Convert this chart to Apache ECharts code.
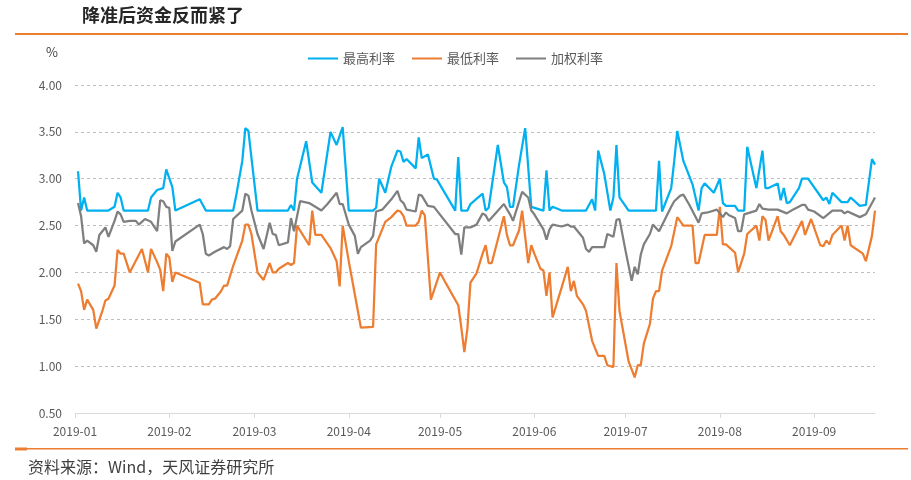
<!DOCTYPE html>
<html><head><meta charset="utf-8">
<script src="https://cdn.jsdelivr.net/npm/echarts@6/dist/echarts.min.js"></script>
<style>html,body{margin:0;padding:0;background:#fff}#c{width:911px;height:480px}</style>
</head><body><div id="c"></div>
<script>
const seriesNames = ['最高利率', '最低利率', '加权利率'];

const hiDates = ['2019-01-02','2019-01-03','2019-01-04','2019-01-05','2019-01-12','2019-01-14','2019-01-15','2019-01-16','2019-01-17','2019-01-25','2019-01-26','2019-01-28','2019-01-30','2019-01-31','2019-02-02','2019-02-03','2019-02-11','2019-02-13','2019-02-22','2019-02-23','2019-02-25','2019-02-26','2019-02-27','2019-03-02','2019-03-12','2019-03-13','2019-03-14','2019-03-15','2019-03-18','2019-03-20','2019-03-23','2019-03-26','2019-03-28','2019-03-30','2019-04-01','2019-04-09','2019-04-10','2019-04-11','2019-04-13','2019-04-15','2019-04-17','2019-04-18','2019-04-19','2019-04-20','2019-04-23','2019-04-24','2019-04-25','2019-04-27','2019-04-29','2019-04-30','2019-05-06','2019-05-07','2019-05-08','2019-05-10','2019-05-11','2019-05-15','2019-05-16','2019-05-17','2019-05-20','2019-05-22','2019-05-23','2019-05-24','2019-05-25','2019-05-27','2019-05-29','2019-05-31','2019-06-04','2019-06-05','2019-06-06','2019-06-07','2019-06-10','2019-06-18','2019-06-20','2019-06-21','2019-06-22','2019-06-24','2019-06-26','2019-06-27','2019-06-28','2019-06-29','2019-07-02','2019-07-11','2019-07-12','2019-07-13','2019-07-16','2019-07-17','2019-07-18','2019-07-20','2019-07-23','2019-07-25','2019-07-26','2019-07-27','2019-07-30','2019-08-01','2019-08-02','2019-08-03','2019-08-06','2019-08-07','2019-08-09','2019-08-10','2019-08-13','2019-08-15','2019-08-16','2019-08-17','2019-08-20','2019-08-21','2019-08-22','2019-08-23','2019-08-24','2019-08-27','2019-08-28','2019-08-30','2019-09-04','2019-09-05','2019-09-06','2019-09-07','2019-09-10','2019-09-12','2019-09-13','2019-09-16','2019-09-18','2019-09-20','2019-09-21'];
const hiVals = [3.08,2.66,2.80,2.66,2.66,2.70,2.85,2.80,2.66,2.66,2.80,2.88,2.90,3.10,2.91,2.66,2.78,2.66,2.66,2.82,3.19,3.54,3.51,2.66,2.66,2.72,2.66,3.00,3.40,2.96,2.85,3.50,3.36,3.55,2.66,2.66,2.69,3.00,2.85,3.13,3.30,3.29,3.18,3.21,3.11,3.44,3.22,3.26,3.00,2.99,2.66,3.23,2.66,2.66,2.73,2.84,2.66,2.69,3.36,2.96,2.91,2.70,2.70,3.15,3.54,2.70,2.66,3.09,2.66,2.70,2.66,2.66,2.78,2.66,3.30,3.05,2.66,2.80,3.36,2.80,2.66,2.66,3.19,2.65,2.90,3.19,3.51,3.19,2.94,2.66,2.90,2.95,2.85,3.00,2.74,2.71,2.71,2.66,2.66,3.34,2.90,3.30,2.90,2.90,2.95,2.77,2.90,2.74,2.75,2.90,3.00,3.00,2.77,2.80,2.73,2.85,2.75,2.75,2.80,2.71,2.72,3.21,3.15];

const loDates = ['2019-01-02','2019-01-03','2019-01-04','2019-01-05','2019-01-07','2019-01-08','2019-01-10','2019-01-11','2019-01-12','2019-01-14','2019-01-15','2019-01-16','2019-01-17','2019-01-19','2019-01-23','2019-01-25','2019-01-26','2019-01-28','2019-01-29','2019-01-30','2019-01-31','2019-02-01','2019-02-02','2019-02-03','2019-02-11','2019-02-12','2019-02-14','2019-02-15','2019-02-16','2019-02-18','2019-02-19','2019-02-20','2019-02-22','2019-02-25','2019-02-26','2019-02-27','2019-02-28','2019-03-02','2019-03-04','2019-03-06','2019-03-07','2019-03-08','2019-03-09','2019-03-12','2019-03-13','2019-03-14','2019-03-15','2019-03-19','2019-03-20','2019-03-21','2019-03-23','2019-03-26','2019-03-28','2019-03-29','2019-03-30','2019-04-01','2019-04-05','2019-04-09','2019-04-10','2019-04-13','2019-04-15','2019-04-17','2019-04-18','2019-04-19','2019-04-20','2019-04-23','2019-04-24','2019-04-25','2019-04-26','2019-04-28','2019-05-01','2019-05-03','2019-05-07','2019-05-08','2019-05-09','2019-05-10','2019-05-11','2019-05-13','2019-05-15','2019-05-16','2019-05-17','2019-05-18','2019-05-22','2019-05-23','2019-05-24','2019-05-25','2019-05-27','2019-05-28','2019-05-30','2019-05-31','2019-06-01','2019-06-03','2019-06-04','2019-06-05','2019-06-06','2019-06-07','2019-06-10','2019-06-12','2019-06-13','2019-06-14','2019-06-15','2019-06-17','2019-06-18','2019-06-20','2019-06-22','2019-06-24','2019-06-25','2019-06-27','2019-06-28','2019-06-29','2019-07-02','2019-07-04','2019-07-05','2019-07-06','2019-07-07','2019-07-09','2019-07-10','2019-07-11','2019-07-12','2019-07-13','2019-07-16','2019-07-18','2019-07-20','2019-07-23','2019-07-24','2019-07-25','2019-07-27','2019-07-31','2019-08-01','2019-08-02','2019-08-03','2019-08-06','2019-08-07','2019-08-09','2019-08-10','2019-08-13','2019-08-14','2019-08-15','2019-08-16','2019-08-17','2019-08-20','2019-08-21','2019-08-22','2019-08-24','2019-08-28','2019-08-29','2019-08-31','2019-09-03','2019-09-04','2019-09-05','2019-09-06','2019-09-07','2019-09-10','2019-09-11','2019-09-12','2019-09-13','2019-09-17','2019-09-18','2019-09-20','2019-09-21'];
const loVals = [1.88,1.80,1.60,1.71,1.60,1.40,1.59,1.70,1.72,1.86,2.24,2.20,2.20,2.00,2.25,2.00,2.25,2.11,2.03,1.80,2.20,2.16,1.90,2.00,1.89,1.66,1.66,1.71,1.72,1.80,1.86,1.86,2.07,2.34,2.51,2.51,2.41,2.00,1.92,2.10,2.00,2.00,2.04,2.10,2.08,2.10,2.50,2.29,2.66,2.40,2.40,2.26,2.12,1.85,2.50,2.12,1.41,1.42,2.30,2.54,2.59,2.66,2.65,2.60,2.50,2.50,2.54,2.66,2.61,1.71,2.00,1.88,1.65,1.41,1.15,1.40,1.89,1.99,2.20,2.29,2.10,2.10,2.60,2.40,2.29,2.29,2.45,2.66,2.10,2.29,2.20,2.04,2.02,1.75,2.00,1.52,1.84,2.06,1.80,1.91,1.75,1.66,1.59,1.27,1.11,1.11,1.01,0.99,2.10,1.59,1.05,0.88,1.01,1.01,1.24,1.45,1.72,1.80,1.80,2.02,2.28,2.59,2.50,2.50,2.10,2.10,2.40,2.40,2.70,2.30,2.30,2.21,2.00,2.20,2.41,2.50,2.34,2.60,2.56,2.34,2.60,2.44,2.40,2.29,2.55,2.40,2.57,2.29,2.28,2.34,2.30,2.40,2.50,2.34,2.50,2.29,2.20,2.12,2.39,2.66];

const avgDates = ['2019-01-02','2019-01-03','2019-01-04','2019-01-05','2019-01-07','2019-01-08','2019-01-09','2019-01-11','2019-01-12','2019-01-14','2019-01-15','2019-01-16','2019-01-17','2019-01-19','2019-01-21','2019-01-22','2019-01-24','2019-01-26','2019-01-28','2019-01-29','2019-01-30','2019-01-31','2019-02-01','2019-02-02','2019-02-03','2019-02-11','2019-02-12','2019-02-13','2019-02-14','2019-02-16','2019-02-19','2019-02-20','2019-02-21','2019-02-22','2019-02-25','2019-02-26','2019-02-27','2019-02-28','2019-03-02','2019-03-04','2019-03-06','2019-03-07','2019-03-08','2019-03-09','2019-03-12','2019-03-13','2019-03-14','2019-03-16','2019-03-19','2019-03-23','2019-03-25','2019-03-28','2019-03-29','2019-03-30','2019-04-01','2019-04-03','2019-04-04','2019-04-05','2019-04-08','2019-04-09','2019-04-10','2019-04-12','2019-04-15','2019-04-17','2019-04-18','2019-04-19','2019-04-20','2019-04-23','2019-04-24','2019-04-25','2019-04-27','2019-04-29','2019-05-06','2019-05-07','2019-05-08','2019-05-09','2019-05-11','2019-05-13','2019-05-15','2019-05-16','2019-05-17','2019-05-22','2019-05-24','2019-05-25','2019-05-28','2019-05-30','2019-05-31','2019-06-01','2019-06-04','2019-06-05','2019-06-06','2019-06-07','2019-06-10','2019-06-12','2019-06-13','2019-06-14','2019-06-17','2019-06-18','2019-06-19','2019-06-20','2019-06-24','2019-06-25','2019-06-27','2019-06-28','2019-06-29','2019-07-01','2019-07-03','2019-07-04','2019-07-05','2019-07-06','2019-07-07','2019-07-09','2019-07-10','2019-07-12','2019-07-14','2019-07-16','2019-07-17','2019-07-19','2019-07-20','2019-07-22','2019-07-25','2019-07-26','2019-07-28','2019-07-31','2019-08-02','2019-08-03','2019-08-04','2019-08-06','2019-08-07','2019-08-08','2019-08-09','2019-08-13','2019-08-14','2019-08-15','2019-08-17','2019-08-20','2019-08-23','2019-08-25','2019-08-28','2019-08-29','2019-08-30','2019-09-01','2019-09-04','2019-09-07','2019-09-10','2019-09-11','2019-09-12','2019-09-16','2019-09-18','2019-09-21'];
const avgVals = [2.74,2.60,2.31,2.34,2.29,2.22,2.40,2.48,2.38,2.55,2.65,2.62,2.54,2.55,2.55,2.51,2.57,2.54,2.44,2.77,2.76,2.70,2.69,2.23,2.33,2.51,2.41,2.20,2.18,2.22,2.27,2.25,2.28,2.57,2.66,2.84,2.82,2.66,2.41,2.25,2.53,2.41,2.40,2.29,2.32,2.58,2.44,2.76,2.74,2.66,2.73,2.85,2.73,2.73,2.51,2.39,2.20,2.27,2.34,2.39,2.65,2.67,2.78,2.87,2.77,2.74,2.67,2.65,2.83,2.82,2.71,2.70,2.41,2.41,2.19,2.48,2.48,2.51,2.63,2.61,2.55,2.73,2.62,2.55,2.86,2.80,2.66,2.62,2.46,2.35,2.46,2.51,2.49,2.51,2.49,2.49,2.37,2.25,2.22,2.27,2.27,2.41,2.38,2.56,2.57,2.23,1.91,2.06,1.98,2.19,2.30,2.41,2.51,2.44,2.57,2.70,2.76,2.82,2.83,2.72,2.53,2.63,2.64,2.67,2.59,2.64,2.61,2.58,2.44,2.44,2.62,2.66,2.73,2.68,2.67,2.67,2.63,2.67,2.72,2.72,2.67,2.65,2.58,2.66,2.66,2.63,2.65,2.59,2.62,2.80];

const colors = ['#00B0F0', '#ED7D31', '#7F7F7F'];
const DAY = 86400000;
const FONT = '"Noto Sans CJK SC","Microsoft YaHei",sans-serif';

function pairs(ds, vs) { return ds.map((d, i) => [d, vs[i]]); }

const chart = echarts.init(document.getElementById('c'), null, {renderer: 'canvas'});
chart.setOption({
  animation: false,
  textStyle: {fontFamily: FONT},
  color: colors,
  grid: {left: 75, right: 36, top: 85, bottom: 67},
  legend: {
    top: 47, left: 'center', icon: 'rect', itemWidth: 30, itemHeight: 2, itemGap: 17,
    textStyle: {fontSize: 13, color: '#595959', fontFamily: FONT},
    data: seriesNames
  },
  xAxis: {
    type: 'time', min: '2019-01-01', max: '2019-09-21',
    splitNumber: 9, minInterval: 28 * DAY, maxInterval: 31 * DAY,
    axisLine: {lineStyle: {color: '#D9D9D9', width: 1}},
    axisTick: {show: true, length: 5, lineStyle: {color: '#D9D9D9'}},
    axisLabel: {
      color: '#595959', fontSize: 12, margin: 12, showMaxLabel: false, hideOverlap: false,
      formatter: function (v) {
        const d = new Date(v);
        const m = d.getMonth() + 1;
        return d.getFullYear() + '-' + (m < 10 ? '0' + m : m);
      }
    },
    splitLine: {show: false}
  },
  yAxis: {
    type: 'value', min: 0.5, max: 4, interval: 0.5,
    axisLine: {show: false}, axisTick: {show: false},
    axisLabel: {color: '#595959', fontSize: 12, margin: 13, formatter: v => v.toFixed(2)},
    splitLine: {lineStyle: {color: '#BFBFBF', type: [3, 3], width: 1}}
  },
  series: [
    {name: seriesNames[0], type: 'line', data: pairs(hiDates, hiVals), showSymbol: false, symbol: 'none', lineStyle: {width: 2.25, color: colors[0]}},
    {name: seriesNames[1], type: 'line', data: pairs(loDates, loVals), showSymbol: false, symbol: 'none', lineStyle: {width: 2.25, color: colors[1]}},
    {name: seriesNames[2], type: 'line', data: pairs(avgDates, avgVals), showSymbol: false, symbol: 'none', lineStyle: {width: 2.25, color: colors[2]}}
  ],
  graphic: [
    {type: 'text', left: 82, top: 6, style: {text: '降准后资金反而紧了', font: 'bold 18px ' + FONT, fill: '#262626'}},
    {type: 'rect', shape: {x: 15, y: 33, width: 893, height: 2}, style: {fill: '#ED7D31'}},
    {type: 'text', left: 46, top: 46, style: {text: '%', font: '13px ' + FONT, fill: '#404040'}},
    {type: 'rect', shape: {x: 15, y: 448, width: 893, height: 1.5}, style: {fill: '#ED7D31'}},
    {type: 'rect', shape: {x: 15, y: 447.5, width: 12, height: 3}, style: {fill: '#ED7D31'}},
    {type: 'text', left: 28, top: 459, style: {text: '资料来源：Wind，天风证券研究所', font: '16px ' + FONT, fill: '#404040'}}
  ]
});
</script>
</body></html>
